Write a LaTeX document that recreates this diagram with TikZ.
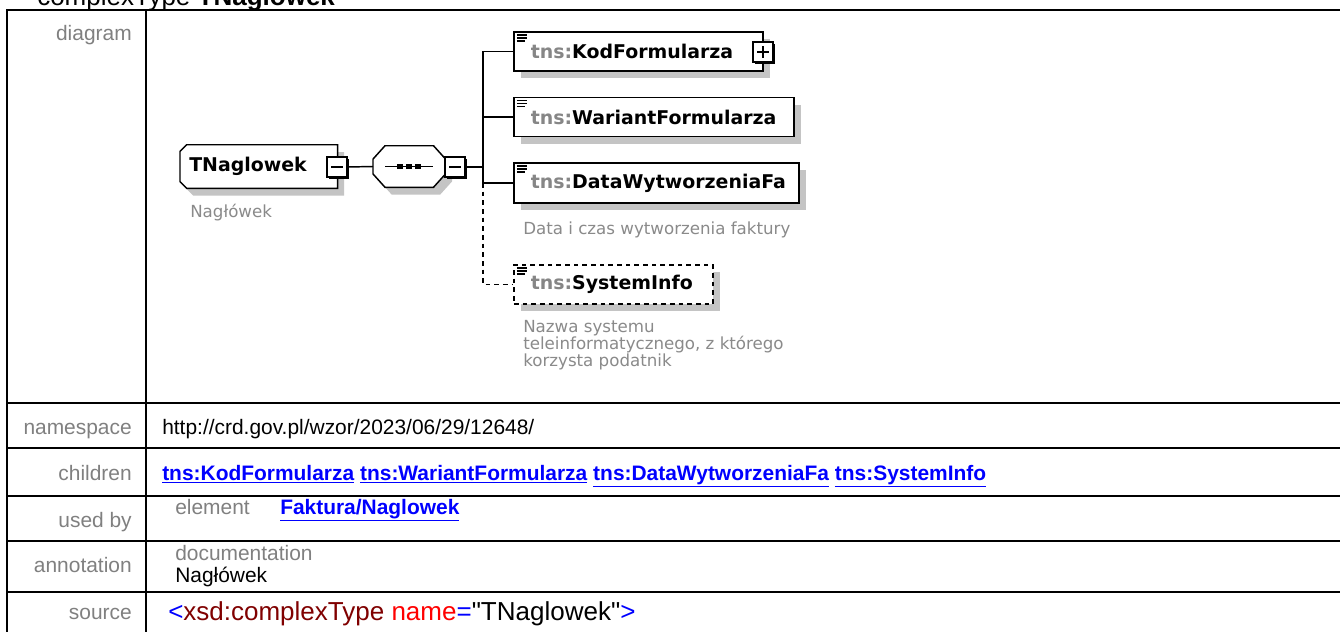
\documentclass[tikz,border=0pt]{standalone}
\usepackage{fontspec}
\setmainfont{Liberation Sans}
\setmonofont{Liberation Sans}
\newfontfamily\diagfont{DejaVu Sans}
\usetikzlibrary{shadows}
\pgfdeclarelayer{paper}
\pgfdeclarelayer{background}
\pgfsetlayers{paper,background,main}
\definecolor{textcolor}{HTML}{000000}
\definecolor{labelgrey}{HTML}{808080}
\definecolor{linkblue}{HTML}{0000FF}
\definecolor{shadowgrey}{HTML}{C4C4C4}
\definecolor{descgrey}{HTML}{8A8A8A}
\definecolor{prefixgrey}{HTML}{868686}
\definecolor{xmlred}{HTML}{FF0000}
\definecolor{xmlmaroon}{HTML}{800000}
\newcommand\tablesize{\fontsize{15.7}{18.8}\selectfont}
\newcommand\namesize{\diagfont\bfseries\fontsize{14.2}{16}\selectfont}
\newcommand\descsize{\diagfont\fontsize{12.5}{12.75}\selectfont}
\newcommand\xlink[1]{\textcolor{linkblue}{\underline{\textbf{#1}}}}
\newcommand\tns[1]{\textcolor{prefixgrey}{tns:}#1}
\tikzset{
  rule/.style={draw=textcolor, line width=1.8pt},
  rowlabel/.style={anchor=base east, text=labelgrey, font=\tablesize, inner sep=0pt},
  cell/.style={anchor=base west, text=textcolor, font=\tablesize, inner sep=0pt},
  conn/.style={draw=textcolor, line width=1.1pt},
  optconn/.style={conn, dash pattern=on 3.5pt off 3pt},
  boxshadow/.style={drop shadow={shadow xshift=5pt, shadow yshift=-5.5pt, fill=shadowgrey, opacity=1}},
  outline/.style={draw=textcolor, line width=1.1pt, fill=white, boxshadow},
  cplx/.style={
    rectangle, font=\namesize, align=left, inner sep=2pt
  },
  seq/.style={
    rectangle, minimum width=54pt, minimum height=30.75pt, inner sep=0pt,
    path picture={
      \draw[textcolor, line width=1pt] ([shift={(-24,0)}]path picture bounding box.center)
        -- ([shift={(24,0)}]path picture bounding box.center);
      \foreach \dx in {-9,0,9}
        \fill[textcolor] ([shift={(\dx,0)}]path picture bounding box.center) +(-2.8,-2.8) rectangle +(2.8,2.8);
    }
  },
  tog/.style={
    rectangle, draw=textcolor, fill=white, line width=0.9pt,
    minimum size=15pt, inner sep=0pt,
    drop shadow={shadow xshift=1.6pt, shadow yshift=-1.6pt, fill=textcolor, opacity=1}
  },
  togminus/.style={tog, path picture={
      \draw[textcolor, line width=0.9pt] ([xshift=3pt]path picture bounding box.west)
        -- ([xshift=-3pt]path picture bounding box.east);}},
  togplus/.style={tog, path picture={
      \draw[textcolor, line width=0.9pt] ([xshift=3pt]path picture bounding box.west)
        -- ([xshift=-3pt]path picture bounding box.east);
      \draw[textcolor, line width=0.9pt] ([yshift=-3pt]path picture bounding box.north)
        -- ([yshift=3pt]path picture bounding box.south);}},
  elem/.style={
    rectangle, draw=textcolor, line width=1.3pt, fill=white, boxshadow,
    font=\namesize, inner xsep=12.75pt, inner ysep=0pt,
    minimum height=29.25pt, align=left,
    path picture={
      \foreach \dy/\len in {3/10,6/10,9/8}
        \draw[solid, textcolor, line width=0.9pt] ([shift={(3,\dy)}]path picture bounding box.north west) -- ++(\len,0);
    }
  },
  optelem/.style={elem, dash pattern=on 3.5pt off 3pt},
  desc/.style={anchor=west, font=\descsize, text=descgrey, align=left, inner sep=0pt}
}
\begin{document}
\begin{tikzpicture}[x=0.75pt,y=-0.75pt]
  \useasboundingbox (0,0) rectangle (1340,632);
  \clip (0,0) rectangle (1340,632);
  \begin{pgfonlayer}{paper}
    \fill[white] (0,0) rectangle (1340,632);
  \end{pgfonlayer}

  % Page title, cut by the top edge.
  \node[anchor=base west, font=\fontsize{19.5}{22}\selectfont, inner sep=0pt] (title) at (37,5)
    {complexType \textbf{TNaglowek}};

  % Table rules.
  \draw[rule] (7,10) -- (1350,10);
  \draw[rule] (7,9) -- (7,640);
  \draw[rule] (146,9) -- (146,640);
  \foreach \ry in {403,448,496,541,592}
    \draw[rule] (7,\ry) -- (1350,\ry);

  % Row labels.
  \node[rowlabel] (lbldiagram) at (132,40) {diagram};
  \node[rowlabel] (lblns) at (132,434) {namespace};
  \node[rowlabel] (lblchildren) at (132,480) {children};
  \node[rowlabel] (lblusedby) at (132,527) {used by};
  \node[rowlabel] (lblannot) at (132,572) {annotation};
  \node[rowlabel] (lblsource) at (132,619) {source};

  % Row contents.
  \node[cell] (nsurl) at (162,434) {http://crd.gov.pl/wzor/2023/06/29/12648/};
  \node[cell] (childlinks) at (162,480)
    {\xlink{tns:KodFormularza} \xlink{tns:WariantFormularza} \xlink{tns:DataWytworzeniaFa} \xlink{tns:SystemInfo}};
  \node[cell, text=labelgrey] (usedkind) at (175,514) {element};
  \node[cell] (usedlink) at (280,514) {\xlink{Faktura/Naglowek}};
  \node[cell, text=labelgrey] (annotkind) at (175,560) {documentation};
  \node[cell] (annottext) at (175,582) {Nagłówek};
  \node[cell, font=\ttfamily\fontsize{19.5}{22}\selectfont] (srctext) at (168,620)
    {\textcolor{linkblue}{<}\textcolor{xmlmaroon}{xsd:complexType} \textcolor{xmlred}{name}\textcolor{linkblue}{=}"TNaglowek"\textcolor{linkblue}{>}};

  % Complex type and its sequence.
  \node[cplx, text width=104.25pt, minimum width=117.75pt, minimum height=32.25pt, anchor=west] (tnag) at (180,166.5) {TNaglowek};
  \node[togminus] (tnagtog) at (337,167) {};
  \node[desc] (tnagdoc) at (190,213) {Nagłówek};
  \node[seq, anchor=west] (seq) at (373,166.5) {};
  \node[togminus] (seqtog) at (455,167) {};

  % Chamfered outlines behind the two nodes.
  \begin{pgfonlayer}{background}
    \draw[outline] (tnag.north east) -- ([xshift=5pt]tnag.north west)
      -- ([yshift=-5pt]tnag.north west) -- ([yshift=5pt]tnag.south west)
      -- ([xshift=5pt]tnag.south west) -- (tnag.south east) -- cycle;
    \draw[outline] ([xshift=-9pt]seq.north east) -- ([xshift=9pt]seq.north west)
      -- ([yshift=-10pt]seq.north west) -- ([yshift=10pt]seq.south west)
      -- ([xshift=9pt]seq.south west) -- ([xshift=-9pt]seq.south east)
      -- ([yshift=10pt]seq.south east) -- ([yshift=-10pt]seq.north east) -- cycle;
  \end{pgfonlayer}

  % Child elements.
  \node[elem, text width=161.25pt, anchor=west] (kod) at (513,51.5) {\tns{KodFormularza}};
  \node[togplus] (kodtog) at (763,52) {};
  \node[elem, text width=184.5pt, anchor=west] (wariant) at (513,117) {\tns{WariantFormularza}};
  \node[elem, text width=188.25pt, minimum height=30pt, anchor=west] (data) at (513,183) {\tns{DataWytworzeniaFa}};
  \node[desc] (datadoc) at (523,230) {Data i czas wytworzenia faktury};
  \node[optelem, text width=123.75pt, anchor=west] (sysinfo) at (513,284.5) {\tns{SystemInfo}};
  \node[desc] (sysdoc) at (523,345)
    {Nazwa systemu\\teleinformatycznego, z którego\\korzysta podatnik};

  % Connectors.
  \coordinate (fork) at (483,167);
  \draw[conn] (tnagtog.east) -- (seq.west);
  \draw[conn] (seqtog.east) -- (fork);
  \draw[conn] (fork) |- (kod.west);
  \draw[conn] (fork) |- (wariant.west);
  \draw[conn] (fork) |- (data.west);
  \draw[optconn] (fork |- data.west) |- (sysinfo.west);

\end{tikzpicture}
\end{document}
